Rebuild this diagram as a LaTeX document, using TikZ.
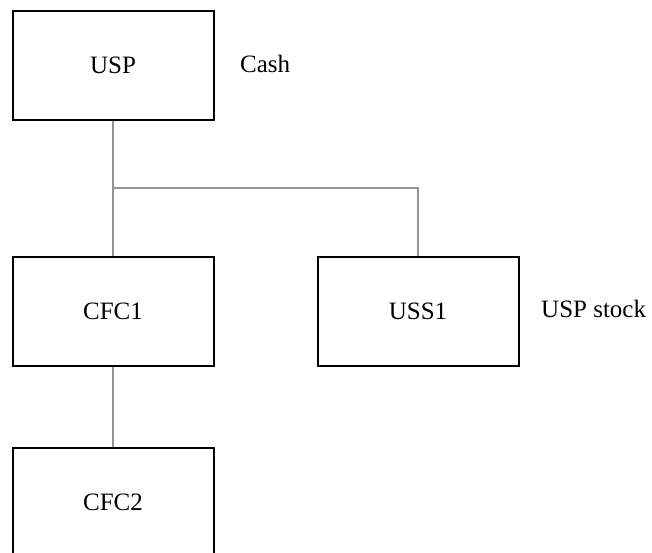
\documentclass[tikz,border=0pt]{standalone}
\usepackage{fontspec}
\setmainfont{Liberation Serif}
\usetikzlibrary{positioning}

\tikzset{
  entity/.style={draw=black, line width=2pt, fill=white, minimum width=201pt, minimum height=109pt, inner sep=0pt},
  link/.style={draw=gray!85, line width=1.3pt},
  note/.style={anchor=west, inner sep=0pt}
}

\begin{document}
\begin{tikzpicture}[x=1pt, y=-1pt, font=\fontsize{25}{30}\selectfont]
    \useasboundingbox (0,0) rectangle (652,552);

    % companies
    \node[entity] (usp)  at (113,65)    {USP};
    \node[entity] (cfc1) at (113,311.5) {CFC1};
    \node[entity] (uss1) at (418,311.5) {USS1};
    \node[entity] (cfc2) at (113,502.5) {CFC2};

    % what is held
    \node[note] (cash)  at (240,64)  {Cash};
    \node[note] (stock) at (541,309) {USP stock};

    % ownership lines
    \coordinate (split) at (113,188);
    \draw[link] (usp) -- (cfc1);
    \draw[link] (split) -| (uss1);
    \draw[link] (cfc1) -- (cfc2);
\end{tikzpicture}
\end{document}
